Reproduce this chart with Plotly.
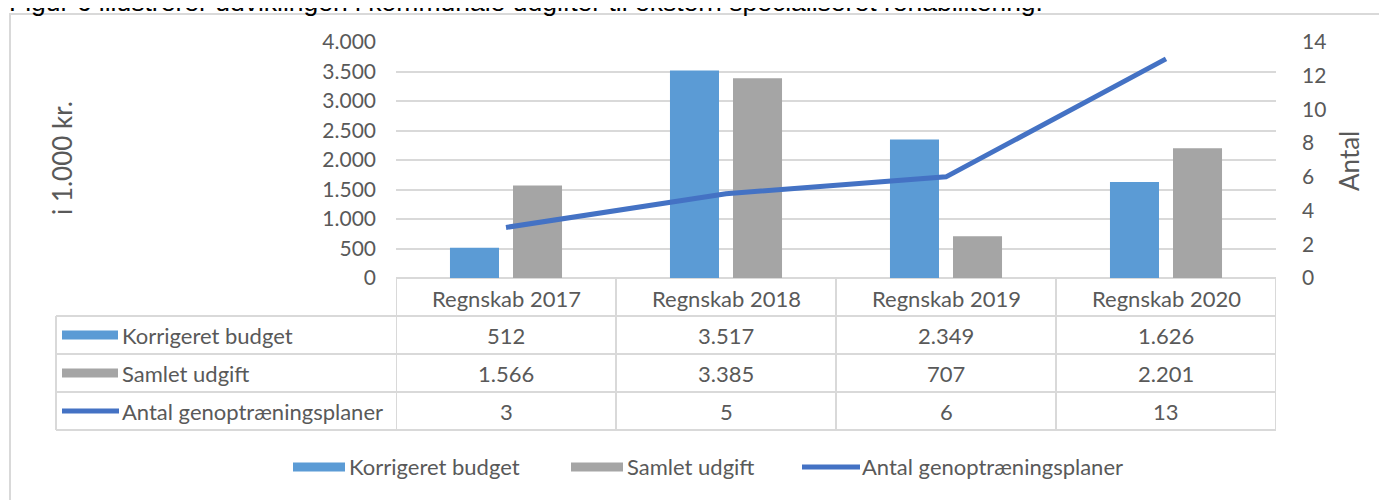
import plotly.graph_objects as go

# ---------------- data ----------------
categories = ["Regnskab 2017", "Regnskab 2018", "Regnskab 2019", "Regnskab 2020"]
korrigeret_budget = [512, 3517, 2349, 1626]
samlet_udgift = [1566, 3385, 707, 2201]
antal_planer = [3, 5, 6, 13]
series_names = ["Korrigeret budget", "Samlet udgift", "Antal genoptræningsplaner"]
left_ticks = [0, 500, 1000, 1500, 2000, 2500, 3000, 3500, 4000]
right_ticks = [0, 2, 4, 6, 8, 10, 12, 14]
caption = "Figur 6 illustrerer udviklingen i kommunale udgifter til ekstern specialiseret rehabilitering."

# ---------------- style ----------------
OFF = 8                      # page body margin of the html output
W, H = 1387 - OFF, 500 - OFF
PL, PR, PT, PB = 396, 1276, 42, 278   # plot area in page pixels
ML, MR, MT, MB = PL - OFF, W - (PR - OFF), PT - OFF, H - (PB - OFF)
BLUE = "#5B9BD5"
GREY = "#A5A5A5"
LINE = "#4472C4"
TXT = "#595959"
GRID = "#D9D9D9"
FONT = "Lato"
FS = 22      # table / legend text
FT = 21      # tick labels
FA = 26      # axis titles


def yp(p):
    """page pixel y -> paper y"""
    return (PB - p) / (PB - PT)


def xp(p):
    """page pixel x -> paper x"""
    return (p - PL) / (PR - PL)


def fmt(v):
    return f"{v:,}".replace(",", ".")


fig = go.Figure()
fig.add_trace(go.Bar(x=categories, y=korrigeret_budget, name=series_names[0],
                     marker=dict(color=BLUE, line=dict(width=0))))
fig.add_trace(go.Bar(x=categories, y=samlet_udgift, name=series_names[1],
                     marker=dict(color=GREY, line=dict(width=0))))
fig.add_trace(go.Scatter(x=categories, y=antal_planer, name=series_names[2], yaxis="y2",
                         mode="lines", line=dict(color=LINE, width=5)))

shapes = []
annotations = []

# outer frame
shapes.append(dict(type="rect", xref="paper", yref="paper",
                   x0=xp(10), x1=xp(1420), y0=yp(14), y1=yp(530),
                   line=dict(color=GRID, width=2), layer="below"))

# caption (cut off at top, as in reference)
annotations.append(dict(text=caption, xref="paper", yref="paper", x=xp(7), y=yp(19),
                        xanchor="left", yanchor="bottom", showarrow=False,
                        font=dict(family="Liberation Sans", size=26.5, color="#000000")))

# data table grid
row_lines = [316, 354, 392, 430]
for p in row_lines:
    shapes.append(dict(type="line", xref="paper", yref="paper",
                       x0=xp(56), x1=1, y0=yp(p), y1=yp(p),
                       line=dict(color=GRID, width=2)))
shapes.append(dict(type="line", xref="paper", yref="paper",
                   x0=xp(56), x1=xp(56), y0=yp(316), y1=yp(430),
                   line=dict(color=GRID, width=2)))
for k in range(len(categories) + 1):
    shapes.append(dict(type="line", xref="x", yref="paper",
                       x0=k - 0.5, x1=k - 0.5, y0=yp(278), y1=yp(430),
                       line=dict(color=GRID, width=2)))

# header labels
for c in categories:
    annotations.append(dict(text=c, xref="x", yref="paper", x=c, y=yp(298),
                            xanchor="center", yanchor="middle",
                            showarrow=False, font=dict(family=FONT, size=FS, color=TXT)))

row_centers = [335, 373, 411]
rows = [korrigeret_budget, samlet_udgift, antal_planer]
for r, vals in enumerate(rows):
    for c, v in zip(categories, vals):
        annotations.append(dict(text=fmt(v), xref="x", yref="paper", x=c, y=yp(row_centers[r]),
                                xanchor="center", yanchor="middle",
                                showarrow=False, font=dict(family=FONT, size=FS, color=TXT)))
    annotations.append(dict(text=series_names[r], xref="paper", yref="paper",
                            x=xp(120), y=yp(row_centers[r]), xanchor="left", yanchor="middle",
                            showarrow=False, font=dict(family=FONT, size=FS, color=TXT)))

# swatches in table
for r, col in enumerate([BLUE, GREY]):
    shapes.append(dict(type="rect", xref="paper", yref="paper",
                       x0=xp(62), x1=xp(118), y0=yp(row_centers[r] - 4.5), y1=yp(row_centers[r] + 4.5),
                       fillcolor=col, line=dict(width=0)))
shapes.append(dict(type="line", xref="paper", yref="paper",
                   x0=xp(62), x1=xp(119), y0=yp(row_centers[2]), y1=yp(row_centers[2]),
                   line=dict(color=LINE, width=5)))

# bottom legend
LY = 467
leg = [(293, 345, 347, BLUE, "rect"), (571, 623, 625, GREY, "rect"), (802, 860, 860, LINE, "line")]
for (a, b, t, col, kind), name in zip(leg, series_names):
    if kind == "rect":
        shapes.append(dict(type="rect", xref="paper", yref="paper",
                           x0=xp(a), x1=xp(b), y0=yp(LY - 4.5), y1=yp(LY + 4.5),
                           fillcolor=col, line=dict(width=0)))
    else:
        shapes.append(dict(type="line", xref="paper", yref="paper",
                           x0=xp(a), x1=xp(b), y0=yp(LY), y1=yp(LY),
                           line=dict(color=col, width=5)))
    annotations.append(dict(text=name, xref="paper", yref="paper", x=xp(t), y=yp(LY),
                            xanchor="left", yanchor="middle", showarrow=False,
                            font=dict(family=FONT, size=FS, color=TXT)))

# axis titles
annotations.append(dict(text="i 1.000 kr.", xref="paper", yref="paper", x=xp(62), y=yp(158),
                        xanchor="center", yanchor="middle", textangle=-90, showarrow=False,
                        font=dict(family=FONT, size=FA, color=TXT)))
annotations.append(dict(text="Antal", xref="paper", yref="paper", x=xp(1349), y=yp(161),
                        xanchor="center", yanchor="middle", textangle=-90, showarrow=False,
                        font=dict(family=FONT, size=FA, color=TXT)))

fig.update_layout(
    width=W, height=H,
    margin=dict(l=ML, r=MR, t=MT, b=MB, autoexpand=False),
    paper_bgcolor="white", plot_bgcolor="white",
    separators=",.",
    barmode="group", bargap=0.427, bargroupgap=0.222,
    showlegend=False,
    font=dict(family=FONT, size=FS, color=TXT),
    xaxis=dict(type="category", range=[-0.5, 3.5], showticklabels=False,
               showgrid=False, showline=False, zeroline=False, ticks=""),
    yaxis=dict(range=[0, 4000], tickvals=left_ticks, tickformat=",d",
               showgrid=True, gridcolor=GRID, gridwidth=2, zeroline=True,
               zerolinecolor=GRID, zerolinewidth=2, showline=False, ticks="",
               ticklabelstandoff=19, tickfont=dict(family=FONT, size=FT, color=TXT)),
    yaxis2=dict(range=[0, 14], tickvals=right_ticks, overlaying="y", side="right",
                showgrid=False, zeroline=False, showline=False, ticks="",
                ticklabelstandoff=25, tickfont=dict(family=FONT, size=FT, color=TXT)),
    shapes=shapes, annotations=annotations,
)

fig.write_html("out.html")
